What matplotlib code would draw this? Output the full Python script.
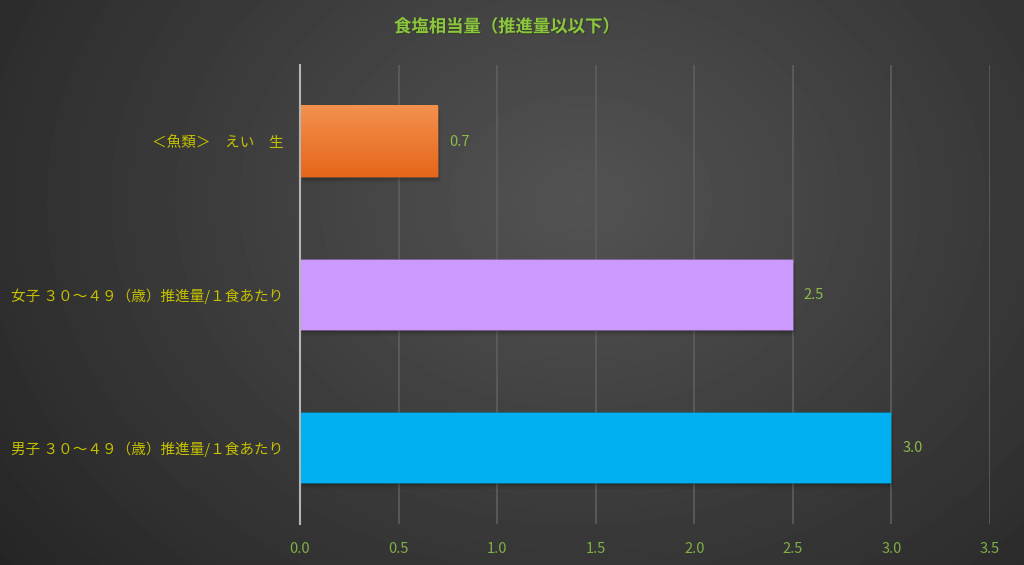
import numpy as np
import matplotlib.pyplot as plt
from matplotlib.colors import LinearSegmentedColormap
import matplotlib.patheffects as pe

plt.rcParams['font.family'] = ['Noto Sans CJK JP', 'DejaVu Sans']

# data (bottom to top)
categories = ["男子 ３０～４９（歳）推進量/１食あたり",
              "女子 ３０～４９（歳）推進量/１食あたり",
              "＜魚類＞　えい　生"]
values = [3.0, 2.5, 0.7]
colors = ["#00B0F0", "#CC99FF", "#EE7B30"]
title = "食塩相当量（推進量以以下）"

fig = plt.figure(figsize=(10.24, 5.65), dpi=100)

# radial-ish dark background
bg = fig.add_axes([0, 0, 1, 1], zorder=-10)
yy, xx = np.mgrid[0:565, 0:1024]
d = np.sqrt(((xx - 580) / 700.0) ** 2 + ((yy - 200) / 560.0) ** 2)
shade = np.clip(0.325 - 0.17 * d, 0.13, 0.33)
bg.imshow(shade, cmap="gray", vmin=0, vmax=1, aspect="auto", extent=[0, 1, 0, 1])
bg.axis("off")

ax = fig.add_axes([300 / 1024, 1 - 524 / 565, 690 / 1024, 459 / 565])
ax.patch.set_alpha(0)
y = np.arange(len(categories))

# soft shadows
for k, a in [(0.012, 0.12), (0.024, 0.08), (0.036, 0.05)]:
    ax.barh(y - k, values, height=0.465, left=k * 0.4, color="black", alpha=a, zorder=2)
bars = ax.barh(y, values, height=0.465, color=colors, zorder=3)

# gradient on the orange bar
cmap = LinearSegmentedColormap.from_list("o", ["#E6661A", "#F3914F"])
grad = np.linspace(0, 1, 100).reshape(-1, 1)
ax.imshow(grad, cmap=cmap, aspect="auto", origin="lower", zorder=3.5,
          extent=[0, values[2], y[2] - 0.2325, y[2] + 0.2325])

for b in bars:
    b.set_edgecolor((0, 0, 0, 0.12))
    b.set_linewidth(0.6)

for yi, v in zip(y, values):
    ax.text(v + 0.055, yi, f"{v:.1f}", va="center", ha="left",
            color="#8DBA4A", fontsize=10.5)

ax.set_xlim(0, 3.5)
ax.set_ylim(-0.5, 2.5)
ax.set_xticks(np.arange(0, 3.51, 0.5))
ax.set_xticklabels([f"{t:.1f}" for t in np.arange(0, 3.51, 0.5)])
ax.set_yticks(y)
ax.set_yticklabels(categories)
ax.tick_params(axis="x", labelsize=10.5, length=0, pad=13)
ax.tick_params(axis="y", labelsize=10.5, length=0, pad=12)
for lbl in ax.get_xticklabels():
    lbl.set_color("#7FAF45")
for lbl in ax.get_yticklabels():
    lbl.set_color("#C4C000")

ax.grid(axis="x", color="#5E5E5E", linewidth=1.2, zorder=0)
ax.set_axisbelow(True)
for s in ["top", "right", "bottom"]:
    ax.spines[s].set_visible(False)
ax.spines["left"].set_color("#B5B5B5")
ax.spines["left"].set_linewidth(1.5)
ax.spines["left"].set_zorder(4)

fig.text(507 / 1024, 1 - 27 / 565, title, ha="center", va="center",
         color="#8CC63F", fontsize=12.5, fontweight="bold",
         path_effects=[pe.withSimplePatchShadow(offset=(1, -1), alpha=0.5)])

fig.savefig("out.png", dpi=100)
